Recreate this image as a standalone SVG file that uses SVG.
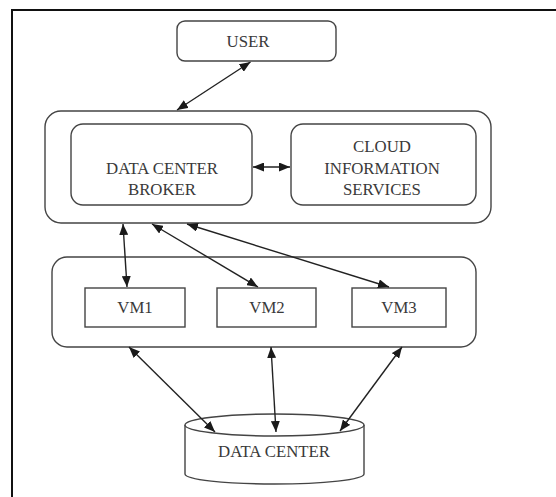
<svg xmlns="http://www.w3.org/2000/svg" width="556" height="497" viewBox="0 0 556 497">
<defs>
<marker id="ah" viewBox="0 0 11 9" refX="11" refY="4.5" markerWidth="11" markerHeight="9" markerUnits="userSpaceOnUse" orient="auto-start-reverse">
<path d="M0,0 L11,4.5 L0,9 Z" fill="#1a1a1a"/>
</marker>
</defs>
<style>
.box{fill:#fff;stroke:#444;stroke-width:1.4}
.t{font-family:"Liberation Serif","Times New Roman",serif;font-size:16.8px;fill:#3a3a3a;text-anchor:middle}
.c{stroke:#222;stroke-width:1.4;fill:none;marker-start:url(#ah);marker-end:url(#ah)}
</style>
<rect width="556" height="497" fill="#fff"/>
<path d="M12,497 V10 H556" fill="none" stroke="#111" stroke-width="2"/>
<g id="user">
<rect class="box" x="177" y="21" width="159" height="40" rx="8"/>
<text class="t" x="248" y="47">USER</text>
</g>
<g id="broker-group">
<rect class="box" x="45" y="111" width="446" height="112" rx="16"/>
</g>
<g id="broker">
<rect class="box" x="71" y="124" width="181" height="81" rx="12"/>
<text class="t" x="162" y="174">DATA CENTER</text>
<text class="t" x="162" y="195">BROKER</text>
</g>
<g id="cis">
<rect class="box" x="291" y="124" width="185" height="81" rx="12"/>
<text class="t" x="382" y="152">CLOUD</text>
<text class="t" x="382" y="174">INFORMATION</text>
<text class="t" x="382" y="195">SERVICES</text>
</g>
<g id="vm-group">
<rect class="box" x="52" y="257" width="424" height="90" rx="15"/>
</g>
<g id="vm1">
<rect class="box" x="85" y="288" width="100" height="39"/>
<text class="t" x="135" y="313">VM1</text>
</g>
<g id="vm2">
<rect class="box" x="217" y="288" width="99" height="39"/>
<text class="t" x="267" y="313">VM2</text>
</g>
<g id="vm3">
<rect class="box" x="352" y="288" width="94" height="39"/>
<text class="t" x="399" y="313">VM3</text>
</g>
<g id="datacenter">
<path class="box" d="M185,425 V474 A89.5,10 0 0 0 364,474 V425"/>
<ellipse class="box" cx="274.5" cy="425" rx="89.5" ry="11"/>
<text class="t" x="274" y="457">DATA CENTER</text>
</g>
<g id="connectors">
<line class="c" x1="250.5" y1="62" x2="177" y2="110"/>
<line class="c" x1="253" y1="167" x2="290" y2="167"/>
<line class="c" x1="123" y1="224" x2="127" y2="287"/>
<line class="c" x1="152" y1="224" x2="258" y2="287"/>
<line class="c" x1="187" y1="224" x2="389" y2="287"/>
<line class="c" x1="129" y1="347" x2="215" y2="432"/>
<line class="c" x1="271" y1="347" x2="276" y2="432"/>
<line class="c" x1="402" y1="347" x2="340" y2="431"/>
</g>
</svg>
